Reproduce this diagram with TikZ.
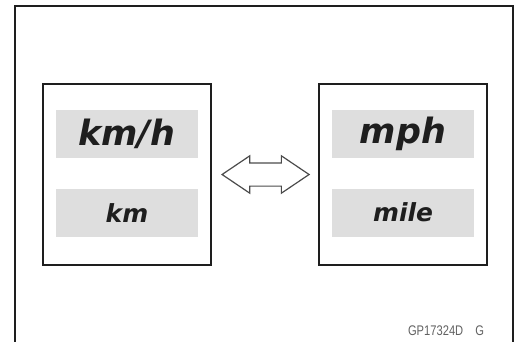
\documentclass[tikz,border=0pt]{standalone}
\usepackage{fontspec}
\usepackage{tikz}
\usetikzlibrary{positioning,shapes.arrows}
\newfontfamily\dispfont{DejaVu Sans}
\newfontfamily\codefont{Liberation Sans}
\definecolor{barfill}{HTML}{DEDEDE}
\definecolor{inkdark}{HTML}{1E1E1E}
\tikzset{
    unitbox/.style={
        draw=inkdark,
        line width=2bp,
        minimum width=168bp,
        minimum height=181bp,
        inner sep=0pt
    },
    bigbar/.style={
        fill=barfill,
        minimum width=142bp,
        minimum height=48bp,
        inner sep=0pt,
        text=inkdark,
        font=\dispfont\bfseries\itshape\fontsize{35}{35}\selectfont
    },
    smallbar/.style={
        bigbar,
        font=\dispfont\bfseries\itshape\fontsize{25}{25}\selectfont
    },
    convarrow/.style={
        draw=inkdark!80,
        line width=1.2bp,
        shape=double arrow,
        double arrow tip angle=68,
        minimum height=87bp,
        minimum width=36bp,
        inner xsep=0pt,
        inner ysep=11bp
    }
}
\begin{document}
\begin{tikzpicture}[x=1bp,y=-1bp]
        \useasboundingbox (0,0) rectangle (518,341);
        \draw[inkdark, line width=2bp] (15,350) -- (15,6) -- (513,6) -- (513,350);

        \node[unitbox] (kmbox) at (127,174.5) {};
        \node[unitbox, right=106bp of kmbox] (mibox) {};

        \node[bigbar, below=27bp of kmbox.north] (kmspeed) {km/h};
        \node[smallbar, below=30bp of kmspeed] (kmdist) {km};

        \node[bigbar, below=27bp of mibox.north] (mispeed) {mph};
        \node[smallbar, below=30bp of mispeed] (midist) {mile};

        \node[convarrow, right=9bp of kmbox] (conv) {};

        \node[text=inkdark!70, font=\codefont\fontsize{14}{14}\selectfont, xscale=0.8] (code) at (446,331) {GP17324D\hspace{15bp}G};
\end{tikzpicture}
\end{document}
